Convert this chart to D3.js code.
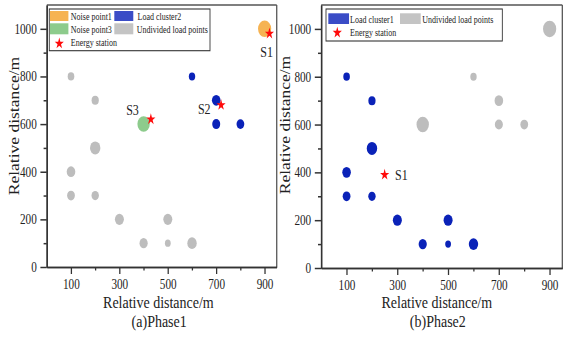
<!DOCTYPE html>
<html>
<head>
<meta charset="utf-8">
<script src="https://cdnjs.cloudflare.com/ajax/libs/d3/7.8.5/d3.min.js"></script>
<style>
  html, body { margin: 0; padding: 0; background: #fff; }
  svg { display: block; }
  text { font-family: "Liberation Serif", "Times New Roman", "DejaVu Serif", serif; fill: #222; }
</style>
</head>
<body>
<svg id="chart" width="567" height="337"></svg>
<script>
// ---------------- data ----------------
const pointX    = [100, 200, 200, 100, 100, 200, 300, 500, 400, 500, 600, 600, 700, 700, 800, 400, 900];
const pointY    = [800, 700, 500, 400, 300, 300, 200, 200, 100, 100, 100, 800, 700, 600, 600, 600, 1000];
const pointLoad = [33, 36, 52, 43, 39, 37, 45, 45, 41, 29, 47, 32, 43, 40, 39, 62, 66];
const phase1Group = ["U","U","U","U","U","U","U","U","U","U","U","C2","C2","C2","C2","N3","N1"];
const phase2Group = ["C1","C1","C1","C1","C1","C1","C1","C1","C1","C1","C1","U","U","U","U","U","U"];

const phase1StationName = ["S1", "S2", "S3"];
const phase1StationX    = [920, 720, 430];
const phase1StationY    = [980, 680, 620];
const phase2StationName = ["S1"];
const phase2StationX    = [250];
const phase2StationY    = [390];

const groupNames = { N1: "Noise point1", N3: "Noise point3", C1: "Load cluster1", C2: "Load cluster2", U: "Undivided load points" };
const stationLegendName = "Energy station";
const yTickLabels = [0, 200, 400, 600, 800, 1000];
const yMinorTicks = [100, 300, 500, 700, 900];
const xTickLabels = [100, 300, 500, 700, 900];
const xMinorTicks = [200, 400, 600, 800];
const axisTitle = "Relative distance/m";
const panelTitles = ["(a)Phase1", "(b)Phase2"];

// ---------------- styles ----------------
const FONT = '"Liberation Serif", "Times New Roman", "DejaVu Serif", serif';
const dotColor = { N1: "#F6B352", N3: "#8DCB8C", C1: "#0A22B8", C2: "#0A22B8", U: "#BDBDBD" };
const swatchColor = { N1: "#F6B352", N3: "#8DCB8C", C1: "#3A4CC6", C2: "#3A4CC6", U: "#C4C4C4" };
const SX = 0.8; // horizontal squeeze of the whole figure

const svg = d3.select("#chart");
const root = svg.append("g").attr("transform", `scale(${SX},1)`);

const rScale = d3.scaleLinear().domain([0, 100]).range([0, 12.5]);
const starSym = d3.symbol().type(d3.symbolStar).size(40);

function panel(cfg) {
  const g = root.append("g");
  const x = d3.scaleLinear().domain([0, 950]).range([cfg.x0, cfg.x1]);
  const y = d3.scaleLinear().domain([0, 1100]).range([cfg.y0, cfg.y1]);

  // frame (top/right)
  g.append("line").attr("x1", cfg.x0).attr("x2", cfg.x1).attr("y1", cfg.y1).attr("y2", cfg.y1)
    .attr("stroke", "#555").attr("stroke-width", 1.3);
  g.append("line").attr("x1", cfg.x1).attr("x2", cfg.x1).attr("y1", cfg.y1).attr("y2", cfg.y0)
    .attr("stroke", "#555").attr("stroke-width", 1.6);

  // axes
  const fmt = d3.format("d");
  const yAx = g.append("g").attr("transform", `translate(${cfg.x0},0)`)
    .call(d3.axisLeft(y).tickValues(yTickLabels).tickFormat(fmt).tickSize(8).tickPadding(4.5).tickSizeOuter(0));
  const yMin = g.append("g").attr("transform", `translate(${cfg.x0},0)`)
    .call(d3.axisLeft(y).tickValues(yMinorTicks).tickSize(4).tickFormat("").tickSizeOuter(0));
  const xAx = g.append("g").attr("transform", `translate(0,${cfg.y0})`)
    .call(d3.axisBottom(x).tickValues(xTickLabels).tickFormat(fmt).tickSize(7).tickPadding(5.5).tickSizeOuter(0));
  const xMin = g.append("g").attr("transform", `translate(0,${cfg.y0})`)
    .call(d3.axisBottom(x).tickValues(xMinorTicks).tickSize(3.5).tickFormat("").tickSizeOuter(0));
  [yAx, yMin, xAx, xMin].forEach(a => a.attr("font-family", FONT));
  [yAx, yMin].forEach(a => { a.select(".domain").attr("stroke", "#333").attr("stroke-width", 1.7); a.selectAll(".tick line").attr("stroke", "#333").attr("stroke-width", 1.5); });
  [xAx, xMin].forEach(a => { a.select(".domain").attr("stroke", "#333").attr("stroke-width", 1.3); a.selectAll(".tick line").attr("stroke", "#333").attr("stroke-width", 1.6); });
  [yAx, xAx].forEach(a => a.selectAll("text").attr("font-size", 14).attr("fill", "#222").attr("font-family", FONT));

  // titles
  g.append("text").attr("x", cfg.titleX).attr("y", 308).attr("text-anchor", "middle")
    .attr("font-size", 17.5).attr("font-family", FONT).text(axisTitle);
  g.append("text").attr("x", cfg.subX).attr("y", 327.5).attr("text-anchor", "middle")
    .attr("font-size", 17.5).attr("font-family", FONT).text(cfg.subtitle);
  g.append("text").attr("transform", `translate(${cfg.yLabX},${cfg.yLabY}) rotate(-90)`)
    .attr("text-anchor", "middle").attr("font-size", 17.5).attr("font-family", FONT).text(axisTitle);

  // points
  g.selectAll("circle.pt").data(pointX.map((v, i) => i)).join("circle")
    .attr("class", "pt")
    .attr("cx", i => x(pointX[i])).attr("cy", i => y(pointY[i]))
    .attr("r", i => rScale(pointLoad[i]))
    .attr("fill", i => dotColor[cfg.groups[i]]);

  // stations
  cfg.stX.forEach((sx, i) => {
    const cx = x(sx), cy = y(cfg.stY[i]);
    g.append("path").attr("d", starSym).attr("transform", `translate(${cx},${cy})`).attr("fill", "#FF0A0A");
    const off = cfg.labelOffset[cfg.stName[i]];
    g.append("text").attr("x", cx + off[0]).attr("y", cy + off[1]).attr("text-anchor", off[2])
      .attr("font-size", 15).attr("font-family", FONT).text(cfg.stName[i]);
  });

  // legend
  const L = cfg.legend;
  g.append("rect").attr("x", L.box[0]).attr("y", L.box[1]).attr("width", L.box[2]).attr("height", L.box[3])
    .attr("fill", "#fff").attr("stroke", "#333").attr("stroke-width", 1.1);
  L.items.forEach(it => {
    if (it.key === "star") {
      g.append("path").attr("d", starSym).attr("transform", `translate(${it.sx},${it.sy})`).attr("fill", "#FF0A0A");
      g.append("text").attr("x", it.tx).attr("y", it.ty).attr("font-size", 10).attr("font-family", FONT).text(stationLegendName);
    } else {
      g.append("rect").attr("x", it.sx).attr("y", it.sy).attr("width", it.sw).attr("height", it.sh)
        .attr("fill", swatchColor[it.key]);
      g.append("text").attr("x", it.tx).attr("y", it.ty).attr("font-size", 10).attr("font-family", FONT).text(groupNames[it.key]);
    }
  });
}

panel({
  x0: 58.5, x1: 345.9, y0: 267, y1: 5,
  groups: phase1Group,
  stX: phase1StationX, stY: phase1StationY, stName: phase1StationName,
  labelOffset: { S1: [-3.5, 23.5, "middle"], S2: [-21, 9, "middle"], S3: [-23, -4, "middle"] },
  titleX: 198, subX: 199, subtitle: panelTitles[0], yLabX: 23.5, yLabY: 126,
  legend: {
    box: [61.6, 9, 200.9, 41.7],
    items: [
      { key: "N1", sx: 62.5, sy: 11, sw: 23, sh: 10, tx: 88.5, ty: 20 },
      { key: "C2", sx: 142.9, sy: 11, sw: 23.7, sh: 10, tx: 172, ty: 20 },
      { key: "N3", sx: 62.5, sy: 23.3, sw: 23, sh: 11, tx: 88.5, ty: 33.3 },
      { key: "U", sx: 142.9, sy: 23.3, sw: 23.7, sh: 11, tx: 170.9, ty: 33.3 },
      { key: "star", sx: 74.1, sy: 43.5, tx: 88.5, ty: 46 }
    ]
  }
});

panel({
  x0: 401.5, x1: 702.9, y0: 268, y1: 5,
  groups: phase2Group,
  stX: phase2StationX, stY: phase2StationY, stName: phase2StationName,
  labelOffset: { S1: [13, 5, "start"] },
  titleX: 546, subX: 547.3, subtitle: panelTitles[1], yLabX: 362.5, yLabY: 125,
  legend: {
    box: [407.5, 9, 220.4, 32],
    items: [
      { key: "C1", sx: 410.4, sy: 13.3, sw: 25.9, sh: 10.7, tx: 437.5, ty: 22.7 },
      { key: "U", sx: 500, sy: 13.3, sw: 25.9, sh: 10.7, tx: 527.9, ty: 22.7 },
      { key: "star", sx: 421.6, sy: 32.7, tx: 437.5, ty: 35.7 }
    ]
  }
});
</script>
</body>
</html>
